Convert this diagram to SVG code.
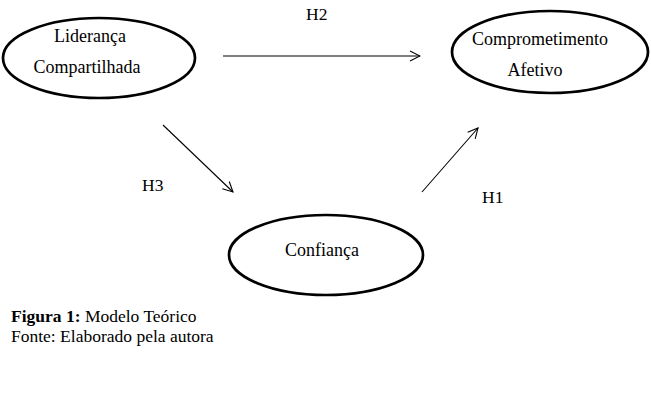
<svg xmlns="http://www.w3.org/2000/svg" width="651" height="420" viewBox="0 0 651 420">
<defs>
<marker id="arr" viewBox="0 0 12 12" refX="11" refY="6" markerWidth="12" markerHeight="12" markerUnits="userSpaceOnUse" orient="auto">
<path d="M1,1 L11,6 L1,11" fill="none" stroke="#000" stroke-width="1.1"/>
</marker>
<style>
.node ellipse{fill:#fff;stroke:#000;stroke-width:2.7}
text{font-family:"Liberation Serif","Times New Roman",serif;fill:#000}
.t{font-size:18px;text-anchor:middle}
.h{font-size:17.5px}
.cap{font-size:17.5px}
.conn line{stroke:#000;stroke-width:1.1;marker-end:url(#arr)}
</style>
</defs>
<rect width="651" height="420" fill="#fff"/>
<g id="lideranca" class="node">
<ellipse cx="99" cy="58" rx="96" ry="40"/>
<text class="t" x="90" y="42">Liderança</text>
<text class="t" x="87" y="73">Compartilhada</text>
</g>
<g id="comprometimento" class="node">
<ellipse cx="550" cy="52" rx="98" ry="41"/>
<text class="t" x="540" y="45">Comprometimento</text>
<text class="t" x="535" y="76">Afetivo</text>
</g>
<g id="confianca" class="node">
<ellipse cx="326" cy="255" rx="97" ry="40"/>
<text class="t" x="322" y="256">Confiança</text>
</g>
<g id="connectors" class="conn">
<line x1="223" y1="56" x2="420" y2="56"/>
<line x1="163" y1="125" x2="233" y2="192"/>
<line x1="422" y1="192" x2="478" y2="128"/>
</g>
<g id="labels">
<text class="h" x="306" y="20">H2</text>
<text class="h" x="142" y="191">H3</text>
<text class="h" x="482" y="203">H1</text>
</g>
<g id="caption">
<text class="cap" x="11" y="322"><tspan font-weight="bold">Figura 1:</tspan> Modelo Teórico</text>
<text class="cap" x="11" y="342">Fonte: Elaborado pela autora</text>
</g>
</svg>
